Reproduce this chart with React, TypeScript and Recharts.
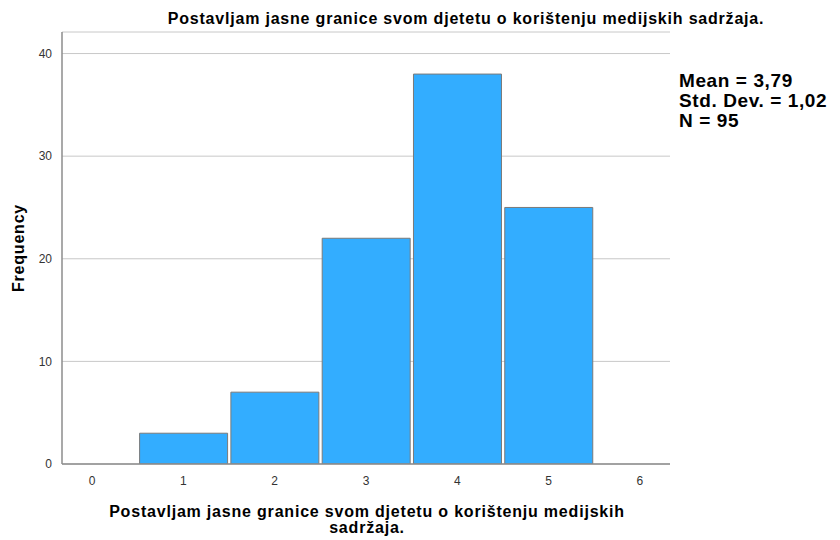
import { BarChart, Bar, XAxis, YAxis, CartesianGrid } from 'recharts';

// histogram bins (response values) and their frequencies
const categories = [0, 1, 2, 3, 4, 5, 6];
const frequencies = [0, 3, 7, 22, 38, 25, 0];
const yTicks = [0, 10, 20, 30, 40];

const TITLE = 'Postavljam jasne granice svom djetetu o korištenju medijskih sadržaja.';
const X_LABEL_LINES = ['Postavljam jasne granice svom djetetu o korištenju medijskih', 'sadržaja.'];
const STATS = ['Mean = 3,79', 'Std. Dev. = 1,02', 'N = 95'];

const data = categories.map((c, i) => ({ value: c, count: frequencies[i] }));

const FONT = '"Liberation Sans", Arial, sans-serif';

const App = () => {
  return (
    <div style={{ position: 'absolute', left: 0, top: 0, width: 840, height: 540, background: '#fff', fontFamily: FONT }}>
      <BarChart
        width={840}
        height={540}
        data={data}
        margin={{ top: 32, right: 170, bottom: 46, left: 2 }}
        barCategoryGap="2%"
      >
        <CartesianGrid vertical={false} stroke="#c8c8c8" strokeWidth={1} />
        <XAxis
          dataKey="value"
          type="number"
          domain={[-0.33, 6.33]}
          ticks={categories}
          allowDataOverflow
          tickLine={false}
          axisLine={{ stroke: '#8c8c8c', strokeWidth: 1.5 }}
          tick={{ fill: '#333', fontSize: 12, fontFamily: FONT }}
          tickMargin={6}
        />
        <YAxis
          type="number"
          domain={[0, 42.1]}
          ticks={yTicks}
          allowDataOverflow
          width={60}
          tickLine={false}
          axisLine={{ stroke: '#8c8c8c', strokeWidth: 1.5 }}
          tick={{ fill: '#333', fontSize: 12, fontFamily: FONT }}
          tickMargin={4}
        />
        <Bar dataKey="count" fill="#33adff" stroke="#7a7a7a" strokeWidth={1} isAnimationActive={false} />
        <text x={466} y={24} textAnchor="middle" fontSize={16} letterSpacing={0.8} fontWeight="bold" fill="#000" fontFamily={FONT}>
          {TITLE}
        </text>
        <text
          x={24}
          y={248}
          textAnchor="middle"
          fontSize={16}
          letterSpacing={0.8}
          fontWeight="bold"
          fill="#000"
          fontFamily={FONT}
          transform="rotate(-90 24 248)"
        >
          Frequency
        </text>
        {X_LABEL_LINES.map((line, i) => (
          <text key={line} x={367} y={517 + i * 16} textAnchor="middle" fontSize={16} letterSpacing={0.8} fontWeight="bold" fill="#000" fontFamily={FONT}>
            {line}
          </text>
        ))}
        {STATS.map((line, i) => (
          <text key={line} x={679} y={87 + i * 20} fontSize={19} letterSpacing={0.6} fontWeight="bold" fill="#000" fontFamily={FONT}>
            {line}
          </text>
        ))}
      </BarChart>
    </div>
  );
};

export default App;
